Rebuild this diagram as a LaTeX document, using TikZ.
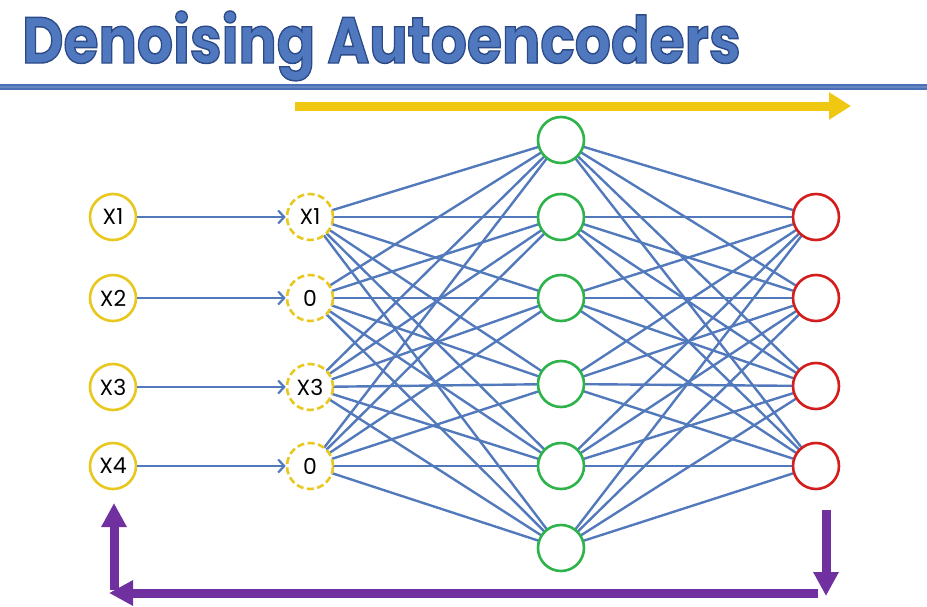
\documentclass[tikz,border=0pt]{standalone}
\usepackage{fontspec}
\setmainfont{Poppins}
\newfontfamily\headfont[FakeBold=2.2]{Poppins Bold}
\usetikzlibrary{arrows.meta}
\definecolor{rule}{HTML}{4A70B5}
\definecolor{wire}{HTML}{5279BB}
\definecolor{inyellow}{HTML}{E8C81E}
\definecolor{goyellow}{HTML}{F0C812}
\definecolor{hidgreen}{HTML}{2DB34A}
\definecolor{outred}{HTML}{D41E1E}
\definecolor{backviolet}{HTML}{7030A0}
\tikzset{
  neuron/.style={circle, minimum size=46pt, inner sep=0pt, line width=2.6pt, fill=white, font=\fontsize{22}{22}\selectfont},
  innode/.style={neuron, draw=inyellow},
  noisy/.style={neuron, draw=inyellow, dash pattern=on 7pt off 3.5pt},
  hidden/.style={neuron, draw=hidgreen},
  outnode/.style={neuron, draw=outred},
  wirestyle/.style={draw=wire, line width=2.4pt},
  feed/.style={draw=wire, line width=2.4pt, -{Straight Barb[length=6pt, width=13pt, line width=2.2pt]}},
  bigarrow/.style={line width=9pt, -{Triangle[length=22pt, width=26pt]}},
  backarrow/.style={backviolet, line width=9pt, -{Triangle[length=24pt, width=24pt]}},
  titletext/.style={font=\headfont\fontsize{65}{65}\selectfont, xscale=0.875, anchor=base west, inner sep=0pt}
}
% blue fill with a darker blue stroke for the faked-bold outline
\newcommand{\outlinedtitle}[1]{\special{pdf:bcolor [0.31 0.47 0.75] [0.17 0.29 0.53]}#1\special{pdf:ecolor}}
\begin{document}
\begin{tikzpicture}[x=1pt, y=-1pt]
  \useasboundingbox (0,0) rectangle (927,606);

  % title
  \node[titletext] (title) at (22, 63) {\outlinedtitle{Denoising Autoencoders}};

  % rule under the title
  \coordinate (ruleL) at (0, 86.5);
  \coordinate (ruleR) at (927, 86.5);
  \draw[rule, line width=6pt] (ruleL) -- (ruleR);
  \draw[rule!85!white, line width=2pt] ([yshift=-0.5pt]ruleL) -- ([yshift=-0.5pt]ruleR);

  % forward direction arrow
  \coordinate (fwdA) at (295, 106);
  \coordinate (fwdB) at (851, 106);
  \draw[bigarrow, goyellow] (fwdA) -- (fwdB);

  % inputs
  \foreach \y [count=\i] in {217, 298, 387, 466} {
    \node[innode] (x\i) at (113, \y) {X\i};
  }

  % layer positions
  \foreach \y [count=\i] in {217, 298, 387, 466} {
    \coordinate (pn\i) at (310, \y);
  }
  \foreach \y [count=\j] in {140, 217, 298, 384, 466, 548} {
    \coordinate (ph\j) at (561, \y);
  }
  \foreach \y [count=\k] in {217, 298, 386, 466} {
    \coordinate (po\k) at (816, \y);
  }

  % fully connected wiring
  \foreach \i in {1,...,4} {
    \foreach \j in {1,...,6} {
      \draw[wirestyle] (pn\i) -- (ph\j);
    }
  }
  \foreach \j in {1,...,6} {
    \foreach \k in {1,...,4} {
      \draw[wirestyle] (ph\j) -- (po\k);
    }
  }

  % corrupted inputs
  \node[noisy] (n1) at (pn1) {X1};
  \node[noisy] (n2) at (pn2) {0};
  \node[noisy] (n3) at (pn3) {X3};
  \node[noisy] (n4) at (pn4) {0};
  % hidden units
  \foreach \j in {1,...,6} { \node[hidden] (h\j) at (ph\j) {}; }
  % reconstructed outputs
  \foreach \k in {1,...,4} { \node[outnode] (o\k) at (po\k) {}; }

  \foreach \i in {1,...,4} {
    \draw[feed] (x\i) -- (n\i);
  }

  % reconstruction loop back to the inputs
  \coordinate (dnA) at (826, 510);
  \coordinate (dnB) at (826, 596);
  \coordinate (lfA) at (818, 593);
  \coordinate (lfB) at (109, 593);
  \coordinate (upA) at (114, 590);
  \coordinate (upB) at (114, 503);
  \draw[backarrow] (dnA) -- (dnB);
  \draw[backarrow] (lfA) -- (lfB);
  \draw[backarrow] (upA) -- (upB);
\end{tikzpicture}
\end{document}
